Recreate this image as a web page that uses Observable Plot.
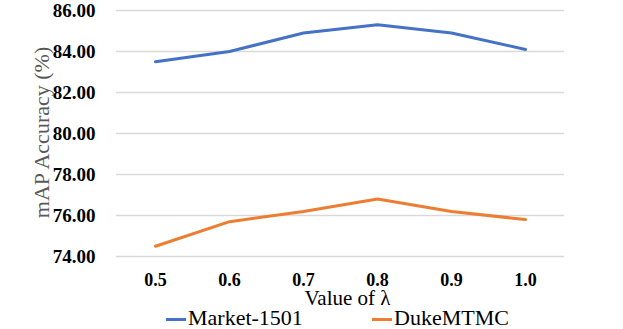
<!DOCTYPE html>
<html>
<head>
<meta charset="utf-8">
<script src="https://cdn.jsdelivr.net/npm/d3@7"></script>
<script src="https://cdn.jsdelivr.net/npm/@observablehq/plot@0.6"></script>
<style>
  html, body { margin: 0; padding: 0; background: #fff; }
  #chart { width: 623px; height: 329px; position: relative; overflow: hidden; }
  #legend { position: absolute; left: 0; top: 306px; width: 623px; height: 23px; color: #000; }
  .item { position: absolute; top: 0; display: flex; align-items: flex-start; height: 23px; white-space: nowrap; }
  .sw { width: 20px; height: 3px; margin-top: 12px; margin-right: 2px; }
  .lab { font-family: 'Liberation Serif'; font-size: 22px; line-height: 23px; }
</style>
</head>
<body>
<div id="chart"><div id="legend"></div></div>
<script>
const lambdas = ["0.5", "0.6", "0.7", "0.8", "0.9", "1.0"];
const market = [83.5, 84.0, 84.9, 85.3, 84.9, 84.1];
const duke = [74.5, 75.7, 76.2, 76.8, 76.2, 75.8];
const seriesNames = ["Market-1501", "DukeMTMC"];
const seriesColors = ["#4472c4", "#ed7d31"];
const yTicks = [74, 76, 78, 80, 82, 84, 86];
const yLabel = "mAP Accuracy (%)";
const xLabel = "Value of λ";

const data = [];
lambdas.forEach((l, i) => {
  data.push({lambda: l, value: market[i], series: seriesNames[0]});
  data.push({lambda: l, value: duke[i], series: seriesNames[1]});
});

const plot = Plot.plot({
  width: 623,
  height: 312,
  marginLeft: 116,
  marginRight: 59,
  marginTop: 10,
  marginBottom: 56,
  style: {background: "#fff", fontFamily: "'Liberation Serif'"},
  x: {type: "point", domain: lambdas, padding: 0.5},
  y: {domain: [74, 86]},
  color: {domain: seriesNames, range: seriesColors},
  marks: [
    Plot.gridY(yTicks, {stroke: "#d9d9d9", strokeOpacity: 1, strokeWidth: 1.3}),
    Plot.axisY(yTicks, {tickSize: 0, tickPadding: 21, tickFormat: d => d.toFixed(2), fontSize: 19, fontWeight: "bold", fill: "#000", label: null}),
    Plot.axisX({tickSize: 0, tickPadding: 17, fontSize: 18, fontWeight: "bold", fill: "#000", label: null}),
    Plot.text([yLabel], {frameAnchor: "left", textAnchor: "middle", lineAnchor: "middle", rotate: -90, dx: -75, dy: -1, fontSize: 22, fill: "#595959"}),
    Plot.text([xLabel], {frameAnchor: "bottom", textAnchor: "middle", lineAnchor: "middle", dx: 7, dy: 42, fontSize: 21, fill: "#000"}),
    Plot.line(data, {x: "lambda", y: "value", stroke: "series", z: "series", strokeWidth: 3})
  ]
});

plot.querySelectorAll("g, text").forEach(el => {
  el.removeAttribute("font-family");
  el.style.fontFamily = "'Liberation Serif'";
});

const chart = document.getElementById("chart");
chart.insertBefore(plot, chart.firstChild);
plot.style.display = "block";

const legend = document.getElementById("legend");
const lefts = [166, 372];
seriesNames.forEach((name, i) => {
  const it = document.createElement("div");
  it.className = "item";
  it.style.left = lefts[i] + "px";
  const sw = document.createElement("span");
  sw.className = "sw";
  sw.style.background = seriesColors[i];
  const tx = document.createElement("span");
  tx.className = "lab";
  tx.textContent = name;
  it.appendChild(sw);
  it.appendChild(tx);
  legend.appendChild(it);
});
</script>
</body>
</html>
